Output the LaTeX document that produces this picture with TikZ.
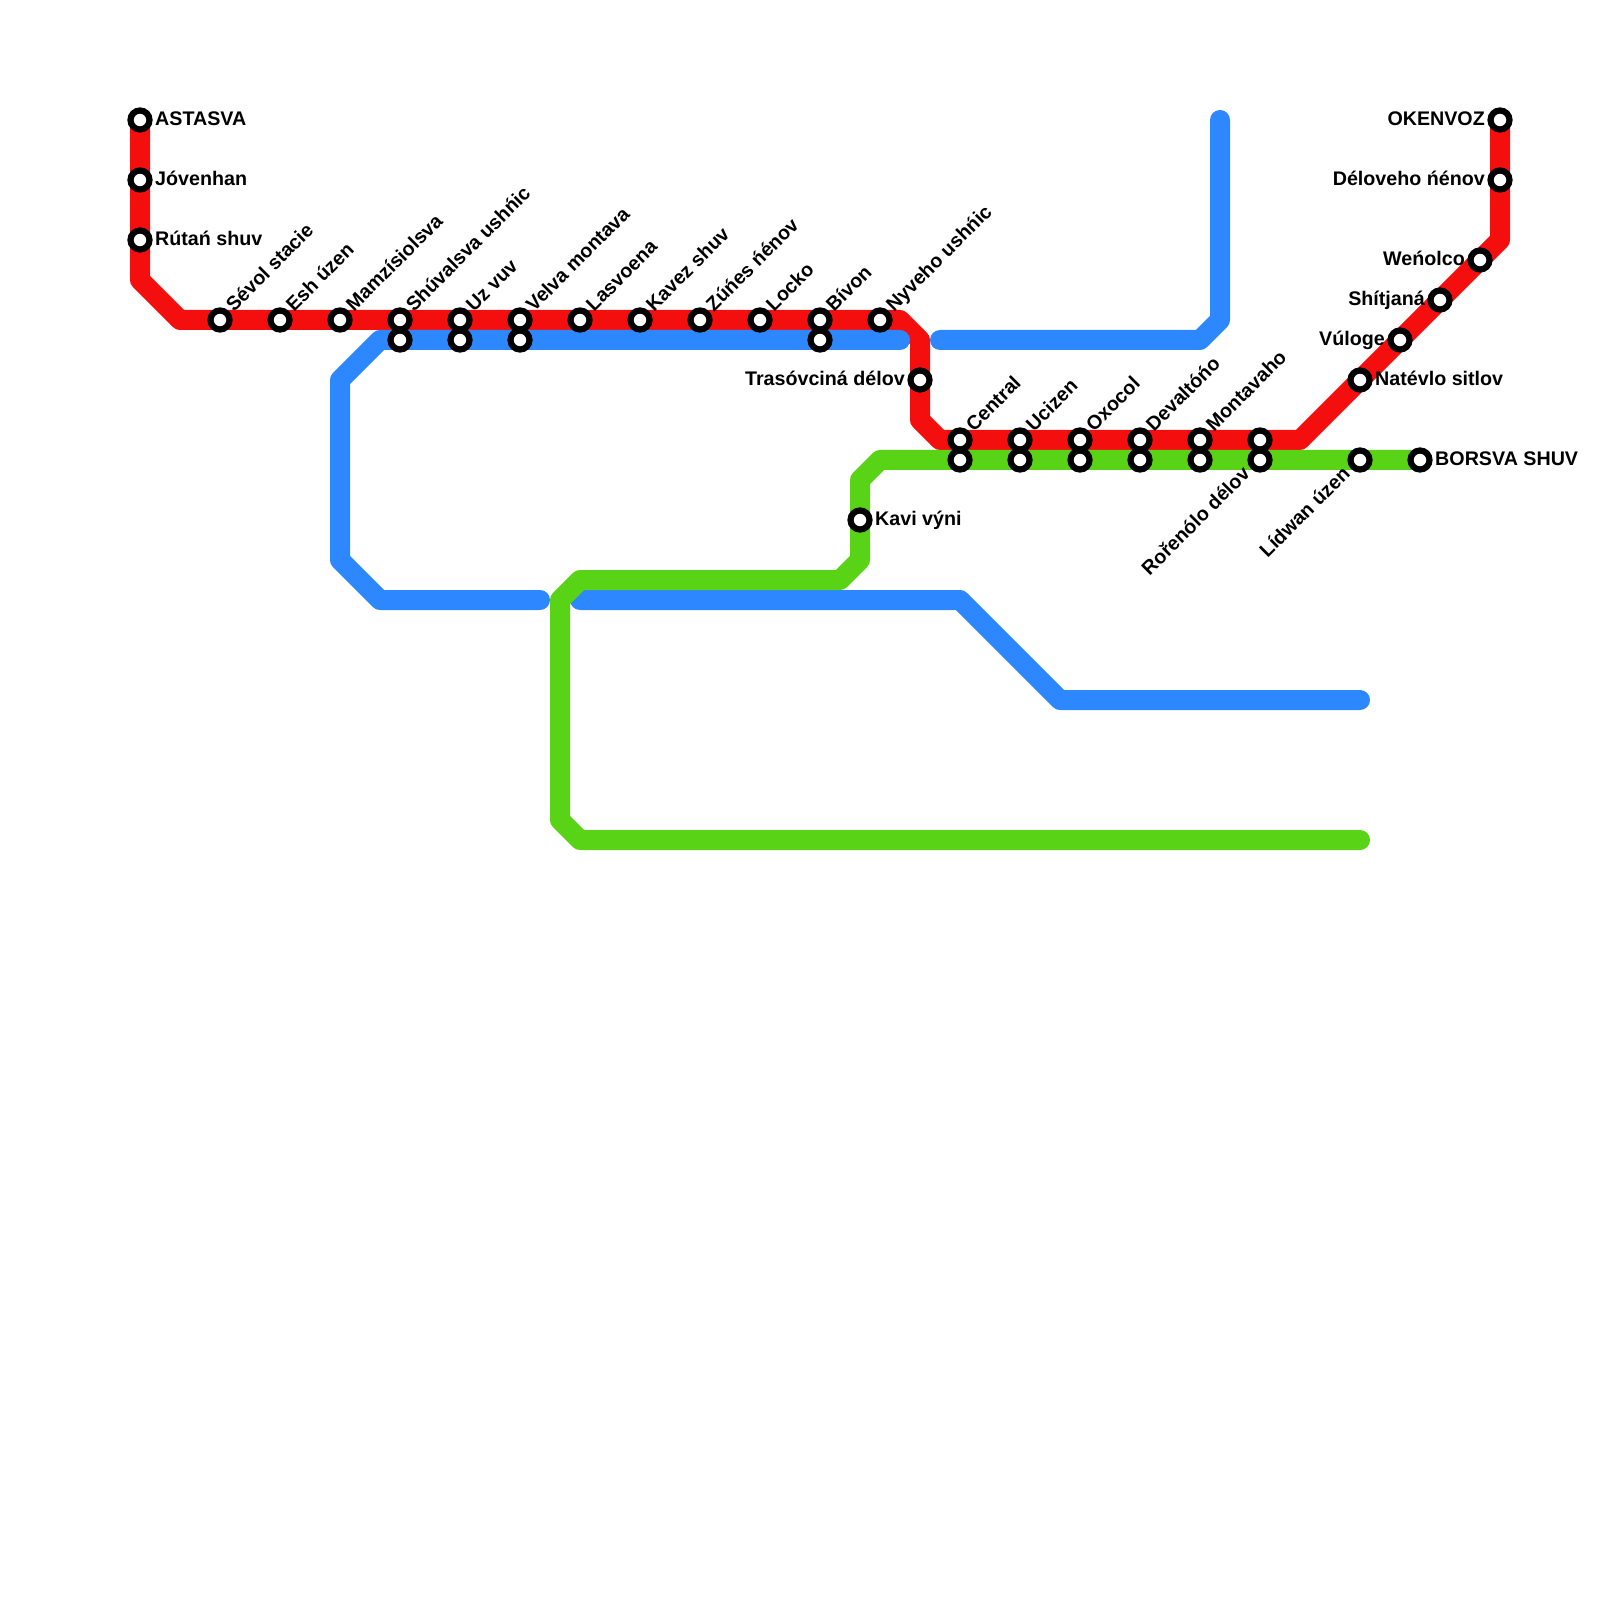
\documentclass[tikz,border=0pt]{standalone}
\usepackage{fontspec}
\setmainfont{Liberation Sans}
\usepackage{xcolor}
\usepackage{tikz}
\usetikzlibrary{backgrounds}
\definecolor{linered}{HTML}{F50E0E}
\definecolor{lineblue}{HTML}{2D88FF}
\definecolor{linegreen}{HTML}{58D316}
\tikzset{
  metroline/.style={line width=2mm,line cap=round,line join=round},
  station/.style={circle,draw=black,fill=white,line width=0.62mm,minimum size=1.9mm,inner sep=0pt},
  namebase/.style={font=\fontsize{5.6pt}{6pt}\selectfont\bfseries,inner sep=0pt,text=black},
  nameright/.style={namebase,anchor=base west,xshift=1.45mm,yshift=-0.55mm},
  nameleft/.style={namebase,anchor=base east,xshift=-1.45mm,yshift=-0.55mm},
  nameup/.style={namebase,anchor=base west,xshift=1.36mm,yshift=0.72mm,rotate=45},
  namedown/.style={namebase,anchor=base east,xshift=-0.85mm,yshift=-1.45mm,rotate=45}
}
\begin{document}
\begin{tikzpicture}[y=-1cm]
  \useasboundingbox (0,0) rectangle (16,16);
  % left leg and top row
  \node[station] (astasva) at (1.4,1.2) {};
  \node[station] (jovenhan) at (1.4,1.8) {};
  \node[station] (rutan) at (1.4,2.4) {};
  \node[station] (sevol) at (2.2,3.2) {};
  \node[station] (esh) at (2.8,3.2) {};
  \node[station] (mamzi) at (3.4,3.2) {};
  \node[station] (shuvalsva) at (4.0,3.2) {};
  \node[station] (uzvuv) at (4.6,3.2) {};
  \node[station] (velva) at (5.2,3.2) {};
  \node[station] (lasvoena) at (5.8,3.2) {};
  \node[station] (kavez) at (6.4,3.2) {};
  \node[station] (zunes) at (7.0,3.2) {};
  \node[station] (locko) at (7.6,3.2) {};
  \node[station] (bivon) at (8.2,3.2) {};
  \node[station] (nyveho) at (8.8,3.2) {};
  \node[station] (shuvalsvab) at (4.0,3.4) {};
  \node[station] (uzvuvb) at (4.6,3.4) {};
  \node[station] (velvab) at (5.2,3.4) {};
  \node[station] (bivonb) at (8.2,3.4) {};
  \node[station] (trasov) at (9.2,3.8) {};
  % lower row
  \node[station] (central) at (9.6,4.4) {};
  \node[station] (ucizen) at (10.2,4.4) {};
  \node[station] (oxocol) at (10.8,4.4) {};
  \node[station] (devalt) at (11.4,4.4) {};
  \node[station] (montava) at (12.0,4.4) {};
  \node[station] (rorenolo) at (12.6,4.4) {};
  \node[station] (centralb) at (9.6,4.6) {};
  \node[station] (ucizenb) at (10.2,4.6) {};
  \node[station] (oxocolb) at (10.8,4.6) {};
  \node[station] (devaltb) at (11.4,4.6) {};
  \node[station] (montavab) at (12.0,4.6) {};
  \node[station] (rorenolob) at (12.6,4.6) {};
  \node[station] (lidwan) at (13.6,4.6) {};
  \node[station] (borsva) at (14.2,4.6) {};
  \node[station] (kavi) at (8.6,5.2) {};
  % right leg
  \node[station] (natevlo) at (13.6,3.8) {};
  \node[station] (vuloge) at (14.0,3.4) {};
  \node[station] (shitjana) at (14.4,3.0) {};
  \node[station] (wenolco) at (14.8,2.6) {};
  \node[station] (deloveho) at (15.0,1.8) {};
  \node[station] (okenvoz) at (15.0,1.2) {};
  % bends and free ends
  \coordinate (redb1) at (1.4,2.8);
  \coordinate (redb2) at (1.8,3.2);
  \coordinate (redb3) at (9.0,3.2);
  \coordinate (redb4) at (9.2,3.4);
  \coordinate (redb5) at (9.2,4.2);
  \coordinate (redb6) at (9.4,4.4);
  \coordinate (redb7) at (13.0,4.4);
  \coordinate (redb8) at (15.0,2.4);
  \coordinate (bluea1) at (9.0,3.4);
  \coordinate (bluea2) at (3.8,3.4);
  \coordinate (bluea3) at (3.4,3.8);
  \coordinate (bluea4) at (3.4,5.6);
  \coordinate (bluea5) at (3.8,6.0);
  \coordinate (bluea6) at (5.4,6.0);
  \coordinate (blueb1) at (9.4,3.4);
  \coordinate (blueb2) at (12.0,3.4);
  \coordinate (blueb3) at (12.2,3.2);
  \coordinate (blueb4) at (12.2,1.2);
  \coordinate (bluec1) at (5.8,6.0);
  \coordinate (bluec2) at (9.6,6.0);
  \coordinate (bluec3) at (10.6,7.0);
  \coordinate (bluec4) at (13.6,7.0);
  \coordinate (greenb1) at (8.8,4.6);
  \coordinate (greenb2) at (8.6,4.8);
  \coordinate (greenb3) at (8.6,5.6);
  \coordinate (greenb4) at (8.4,5.8);
  \coordinate (greenb5) at (5.8,5.8);
  \coordinate (greenb6) at (5.6,6.0);
  \coordinate (greenb7) at (5.6,8.2);
  \coordinate (greenb8) at (5.8,8.4);
  \coordinate (greenb9) at (13.6,8.4);
  % the lines
  \begin{scope}[on background layer]
    \draw[metroline,linered] (astasva.center) -- (redb1) -- (redb2) -- (redb3) -- (redb4) -- (redb5) -- (redb6) -- (redb7) -- (redb8) -- (okenvoz.center);
    \draw[metroline,lineblue] (bluea1) -- (bluea2) -- (bluea3) -- (bluea4) -- (bluea5) -- (bluea6);
    \draw[metroline,lineblue] (blueb1) -- (blueb2) -- (blueb3) -- (blueb4);
    \draw[metroline,lineblue] (bluec1) -- (bluec2) -- (bluec3) -- (bluec4);
    \draw[metroline,linegreen] (borsva.center) -- (greenb1) -- (greenb2) -- (greenb3) -- (greenb4) -- (greenb5) -- (greenb6) -- (greenb7) -- (greenb8) -- (greenb9);
  \end{scope}
  % station names
  \node[nameright] (astasvaname) at (astasva) {ASTASVA};
  \node[nameright] (jovenhanname) at (jovenhan) {Jóvenhan};
  \node[nameright] (rutanname) at (rutan) {Rútań shuv};
  \node[nameup] (sevolname) at (sevol) {Sévol stacie};
  \node[nameup] (eshname) at (esh) {Esh úzen};
  \node[nameup] (mamziname) at (mamzi) {Mamzísiolsva};
  \node[nameup] (shuvalsvaname) at (shuvalsva) {Shúvalsva ushńic};
  \node[nameup] (uzvuvname) at (uzvuv) {Uz vuv};
  \node[nameup] (velvaname) at (velva) {Velva montava};
  \node[nameup] (lasvoenaname) at (lasvoena) {Lasvoena};
  \node[nameup] (kavezname) at (kavez) {Kavez shuv};
  \node[nameup] (zunesname) at (zunes) {Zúńes ńénov};
  \node[nameup] (lockoname) at (locko) {Locko};
  \node[nameup] (bivonname) at (bivon) {Bívon};
  \node[nameup] (nyvehoname) at (nyveho) {Nyveho ushńic};
  \node[nameleft] (trasovname) at (trasov) {Trasóvciná délov};
  \node[nameup] (centralname) at (central) {Central};
  \node[nameup] (ucizenname) at (ucizen) {Ucizen};
  \node[nameup] (oxocolname) at (oxocol) {Oxocol};
  \node[nameup] (devaltname) at (devalt) {Devaltóńo};
  \node[nameup] (montavaname) at (montava) {Montavaho};
  \node[namedown] (rorenoloname) at (rorenolob) {Rořenólo délov};
  \node[namedown] (lidwanname) at (lidwan) {Lídwan úzen};
  \node[nameright] (borsvaname) at (borsva) {BORSVA SHUV};
  \node[nameright] (kaviname) at (kavi) {Kavi výni};
  \node[nameright] (natevloname) at (natevlo) {Natévlo sitlov};
  \node[nameleft] (vulogename) at (vuloge) {Vúloge};
  \node[nameleft] (shitjananame) at (shitjana) {Shítjaná};
  \node[nameleft] (wenolconame) at (wenolco) {Weńolco};
  \node[nameleft] (delovehoname) at (deloveho) {Déloveho ńénov};
  \node[nameleft] (okenvozname) at (okenvoz) {OKENVOZ};
\end{tikzpicture}
\end{document}
